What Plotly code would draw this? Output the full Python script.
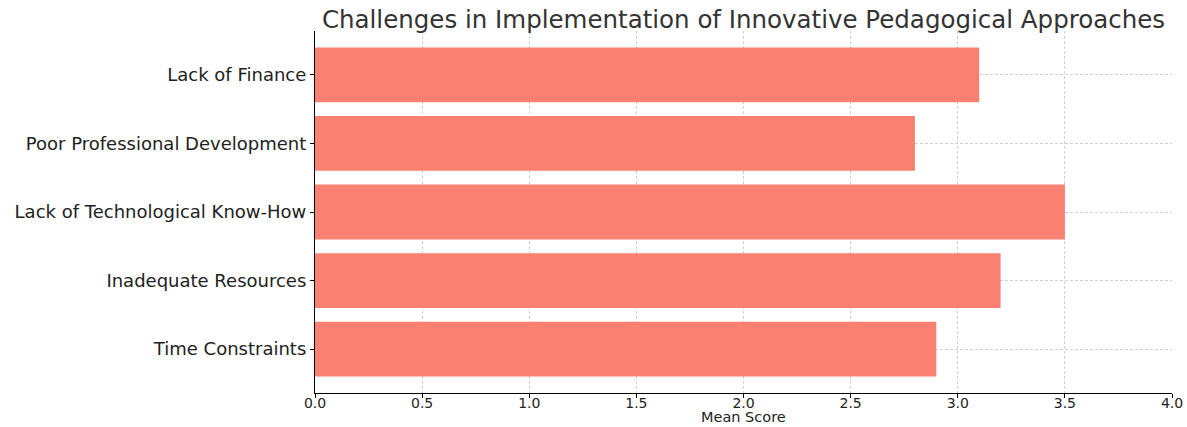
import plotly.graph_objects as go

categories = ["Lack of Finance", "Poor Professional Development", "Lack of Technological Know-How",
              "Inadequate Resources", "Time Constraints"]
mean_scores = [3.1, 2.8, 3.5, 3.2, 2.9]
x_ticks = [0.0, 0.5, 1.0, 1.5, 2.0, 2.5, 3.0, 3.5, 4.0]
x_tick_labels = ["0.0", "0.5", "1.0", "1.5", "2.0", "2.5", "3.0", "3.5", "4.0"]
x_title = "Mean Score"

font_family = "DejaVu Sans"
W, H = 1187, 427
ML, MR, MT, MB = 315, 15, 31, 34
plot_h = H - MT - MB

fig = go.Figure(go.Bar(
    x=mean_scores,
    y=categories,
    orientation="h",
    marker=dict(color="#FA8072", line=dict(width=0)),
    width=0.8,
))

fig.update_layout(
    width=W, height=H,
    margin=dict(l=ML, r=MR, t=MT, b=MB, autoexpand=False),
    paper_bgcolor="white", plot_bgcolor="white",
    showlegend=False,
    font=dict(family=font_family, color="#222", size=16),
    title=dict(
        text="Challenges in Implementation of Innovative Pedagogical Approaches",
        x=0.5, xref="paper", xanchor="center",
        y=1 - 19 / H, yref="container", yanchor="middle",
        font=dict(family=font_family, size=24.5, color="#333"),
    ),
    annotations=[dict(
        text=x_title, xref="paper", yref="paper", x=0.5, y=-24.5 / plot_h,
        xanchor="center", yanchor="middle", showarrow=False, borderpad=0,
        font=dict(family=font_family, size=14.5, color="#222"),
    )],
)

fig.update_xaxes(
    range=[0, 4], tickvals=x_ticks, ticktext=x_tick_labels,
    showgrid=True, gridcolor="#d0d0d0", griddash="3px,2px", gridwidth=1,
    showline=True, linecolor="black", linewidth=1.2,
    ticks="outside", ticklen=4, tickcolor="black",
    tickfont=dict(size=14, family=font_family),
    ticklabelstandoff=-7,
    zeroline=False, automargin=False,
)

fig.update_yaxes(
    categoryorder="array", categoryarray=categories[::-1],
    range=[-0.64, 4.64],
    showgrid=True, gridcolor="#d0d0d0", griddash="3px,2px", gridwidth=1,
    showline=True, linecolor="black", linewidth=1.2,
    ticks="outside", ticklen=4, tickcolor="black",
    tickfont=dict(size=18, family=font_family),
    zeroline=False, automargin=False,
)

fig.write_html("out.html")
